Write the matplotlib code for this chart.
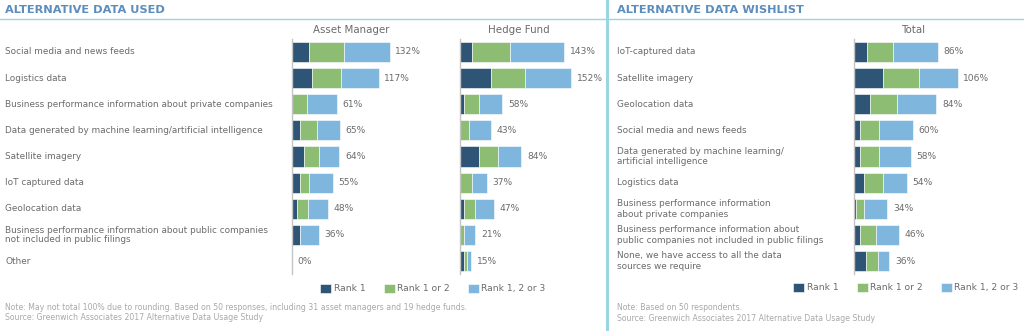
import matplotlib
matplotlib.use("Agg")
import matplotlib.pyplot as plt
from matplotlib.transforms import blended_transform_factory

# ---- data (percent of respondents) ----
used_labels = [
    "Social media and news feeds",
    "Logistics data",
    "Business performance information about private companies",
    "Data generated by machine learning/artificial intelligence",
    "Satellite imagery",
    "IoT captured data",
    "Geolocation data",
    "Business performance information about public companies\nnot included in public filings",
    "Other",
]
am_rank1 = [23, 27, 0, 11, 16, 11, 7, 11, 0]
am_rank2 = [47, 39, 20, 23, 20, 12, 15, 0, 0]
am_rank3 = [62, 51, 41, 31, 28, 32, 26, 25, 0]
am_total = [132, 117, 61, 65, 64, 55, 48, 36, 0]

hf_rank1 = [16, 42, 5, 0, 26, 0, 5, 0, 5]
hf_rank2 = [53, 47, 21, 12, 26, 16, 16, 5, 5]
hf_rank3 = [74, 63, 32, 31, 32, 21, 26, 16, 5]
hf_total = [143, 152, 58, 43, 84, 37, 47, 21, 15]

wish_labels = [
    "IoT-captured data",
    "Satellite imagery",
    "Geolocation data",
    "Social media and news feeds",
    "Data generated by machine learning/\nartificial intelligence",
    "Logistics data",
    "Business performance information\nabout private companies",
    "Business performance information about\npublic companies not included in public filings",
    "None, we have access to all the data\nsources we require",
]
wl_rank1 = [13, 30, 16, 6, 6, 10, 2, 6, 12]
wl_rank2 = [27, 36, 28, 20, 20, 20, 8, 16, 12]
wl_rank3 = [46, 40, 40, 34, 32, 24, 24, 24, 12]
wl_total = [86, 106, 84, 60, 58, 54, 34, 46, 36]

series_names = ["Rank 1", "Rank 1 or 2", "Rank 1, 2 or 3"]
colors = ["#2e5576", "#8dbd73", "#7fb6dd"]

W, H = 1024, 331
TEXT = "#6b6b6b"
NOTE = "#a8a8a8"
TITLE = "#5b8dbd"
RULE = "#9ad6e2"

plt.rcParams["font.family"] = ["DejaVu Sans"]
fig = plt.figure(figsize=(W / 100, H / 100), dpi=100)


def px_axes(x0, y0, x1, y1):
    return fig.add_axes([x0 / W, 1 - y1 / H, (x1 - x0) / W, (y1 - y0) / H])


def draw_panel(ax, r1, r2, r3, totals, xmax, header):
    n = len(r1)
    ys = list(range(n))
    left = [0] * n
    for vals, c, name in zip((r1, r2, r3), colors, series_names):
        ax.barh(ys, vals, left=left, height=0.77, color=c,
                edgecolor="white", linewidth=0.4, label=name)
        left = [a + b for a, b in zip(left, vals)]
    ax.bar_label(ax.containers[-1], labels=[f"{t}%" for t in totals],
                 padding=4, fontsize=6.6, color=TEXT)
    ax.set_xlim(0, xmax)
    ax.set_ylim(n - 0.5, -0.5)
    ax.set_xticks([])
    ax.set_yticks([])
    for s in ("top", "right", "bottom"):
        ax.spines[s].set_visible(False)
    ax.spines["left"].set_color("#c4c4c4")
    ax.spines["left"].set_linewidth(1)
    ax.patch.set_alpha(0)
    ax.set_title(header, fontsize=7.4, color=TEXT, pad=4)


Y0, Y1 = 38.9, 274.1

ax_am = px_axes(292, Y0, 292 + 0.74 * 160, Y1)
draw_panel(ax_am, am_rank1, am_rank2, am_rank3, am_total, 160, "Asset Manager")
ax_hf = px_axes(460, Y0, 460 + 0.73 * 160, Y1)
draw_panel(ax_hf, hf_rank1, hf_rank2, hf_rank3, hf_total, 160, "Hedge Fund")
ax_wl = px_axes(854, Y0, 854 + 0.98 * 120, Y1)
draw_panel(ax_wl, wl_rank1, wl_rank2, wl_rank3, wl_total, 120, "Total")

# category labels
tr = blended_transform_factory(fig.transFigure, ax_am.transData)
for i, lab in enumerate(used_labels):
    ax_am.text(5 / W, i, lab, transform=tr, ha="left", va="center",
               fontsize=6.4, color=TEXT, linespacing=1.05)
tr = blended_transform_factory(fig.transFigure, ax_wl.transData)
for i, lab in enumerate(wish_labels):
    ax_wl.text(617 / W, i, lab, transform=tr, ha="left", va="center",
               fontsize=6.4, color=TEXT, linespacing=1.25)

# section titles and rules
fig.text(5 / W, 1 - 10 / H, "ALTERNATIVE DATA USED", fontsize=8.2,
         fontweight="bold", color=TITLE, va="center", ha="left")
fig.text(617 / W, 1 - 10 / H, "ALTERNATIVE DATA WISHLIST", fontsize=8.2,
         fontweight="bold", color=TITLE, va="center", ha="left")
fig.add_artist(plt.Line2D([0, 1], [1 - 18.5 / H] * 2, color=RULE, lw=1,
                          transform=fig.transFigure))
fig.add_artist(plt.Line2D([606.5 / W] * 2, [0, 1], color=RULE, lw=2.2,
                          transform=fig.transFigure))

# legends
leg_kw = dict(ncol=3, frameon=False, fontsize=6.6, handlelength=1.2,
              handleheight=1.2, handletextpad=0.25, columnspacing=2.0,
              labelcolor=TEXT, loc="center")
fig.legend(handles=ax_am.containers[:3], labels=series_names,
           bbox_to_anchor=(433 / W, 1 - 288.5 / H), **leg_kw)
fig.legend(handles=ax_wl.containers[:3], labels=series_names,
           bbox_to_anchor=(906 / W, 1 - 287.5 / H), **leg_kw)

# notes
fig.text(5 / W, 1 - 308 / H,
         "Note: May not total 100% due to rounding. Based on 50 responses, "
         "including 31 asset managers and 19 hedge funds.",
         fontsize=5.6, color=NOTE, va="center")
fig.text(5 / W, 1 - 317.5 / H,
         "Source: Greenwich Associates 2017 Alternative Data Usage Study",
         fontsize=5.6, color=NOTE, va="center")
fig.text(617 / W, 1 - 307.5 / H, "Note: Based on 50 respondents.",
         fontsize=5.6, color=NOTE, va="center")
fig.text(617 / W, 1 - 318.5 / H,
         "Source: Greenwich Associates 2017 Alternative Data Usage Study",
         fontsize=5.6, color=NOTE, va="center")

fig.savefig("out.png", dpi=100)
